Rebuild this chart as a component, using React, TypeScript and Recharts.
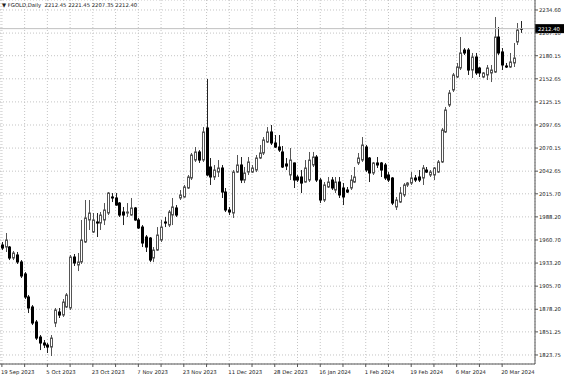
import { ComposedChart, Bar, XAxis, YAxis, CartesianGrid, ReferenceLine } from 'recharts';

// Daily candles (FGOLD, Sep 2023 - Mar 2024)
const opens = [
  1954.7, 1952.3, 1952.3, 1939.2, 1942.8, 1934.5, 1920.2, 1892.8, 1880.9, 1863.0,
  1845.1, 1838.0, 1835.6, 1833.2, 1861.8, 1874.9, 1871.3, 1880.9, 1879.7, 1940.4,
  1930.9, 1934.5, 1958.3, 1984.5, 1970.2, 1982.1, 1980.9, 1984.5, 1992.8, 2011.9,
  2010.7, 2004.7, 1994.0, 1992.8, 1990.4, 1998.8, 1984.5, 1976.1, 1964.2, 1963.0,
  1939.2, 1948.7, 1960.7, 1982.1, 1978.5, 1990.4, 1998.8, 2010.7, 2011.9, 2022.6,
  2034.5, 2055.9, 2065.5, 2055.9, 2094.1, 2047.6, 2035.7, 2041.6, 2046.4, 2017.8,
  1996.4, 1992.8, 2041.6, 2050.0, 2032.1, 2041.6, 2041.6, 2044.0, 2058.3, 2064.3,
  2077.4, 2089.3, 2076.2, 2071.4, 2065.5, 2051.2, 2038.1, 2052.4, 2035.7, 2035.7,
  2029.7, 2032.1, 2050.0, 2059.5, 2032.1, 2008.3, 2023.8, 2032.1, 2020.2, 2029.7,
  2022.6, 2020.2, 2022.6, 2029.7, 2052.4, 2055.9, 2071.4, 2058.3, 2040.5, 2052.4,
  2052.4, 2050.0, 2038.1, 2034.5, 2000.0, 2005.9, 2014.3, 2026.2, 2028.5, 2034.5,
  2035.7, 2034.5, 2044.0, 2038.1, 2038.1, 2041.6, 2053.6, 2089.3, 2121.4, 2139.3,
  2154.8, 2165.5, 2186.9, 2186.9, 2163.1, 2178.6, 2165.5, 2154.8, 2157.2, 2159.6,
  2160.7, 2202.4, 2184.6, 2167.9, 2166.7, 2171.5, 2196.5, 2212.45,
];
const highs = [
  1958.3, 1969.0, 1953.5, 1947.6, 1946.4, 1936.8, 1922.5, 1895.2, 1883.2, 1865.4,
  1847.5, 1841.6, 1838.0, 1847.5, 1879.7, 1879.7, 1890.4, 1897.5, 1942.8, 1944.0,
  1945.2, 1984.5, 2008.3, 2008.3, 1992.8, 1992.8, 1994.0, 2004.7, 2017.8, 2016.6,
  2016.6, 2005.9, 2000.0, 2004.7, 2010.7, 2000.0, 1986.9, 1978.5, 1966.6, 1964.2,
  1952.3, 1976.1, 1984.5, 1988.1, 1996.4, 2010.7, 2002.3, 2020.2, 2026.2, 2038.1,
  2064.3, 2071.4, 2067.8, 2095.2, 2152.4, 2058.3, 2050.0, 2055.9, 2050.0, 2022.6,
  2000.0, 2044.0, 2061.9, 2059.5, 2047.6, 2059.5, 2050.0, 2061.9, 2073.8, 2083.3,
  2095.2, 2097.6, 2085.7, 2085.7, 2072.6, 2058.3, 2070.2, 2053.0, 2038.1, 2044.0,
  2055.9, 2065.5, 2065.5, 2061.9, 2034.5, 2029.7, 2035.7, 2035.7, 2035.7, 2035.7,
  2028.5, 2023.8, 2038.1, 2047.6, 2064.3, 2083.3, 2073.8, 2059.5, 2053.6, 2059.5,
  2053.6, 2052.4, 2041.6, 2035.7, 2011.9, 2023.8, 2028.5, 2029.7, 2041.6, 2038.1,
  2044.0, 2050.0, 2047.6, 2044.0, 2047.6, 2055.9, 2094.1, 2119.1, 2139.3, 2159.6,
  2171.5, 2202.4, 2189.3, 2189.3, 2183.4, 2183.4, 2166.7, 2160.7, 2169.1, 2169.1,
  2226.2, 2214.3, 2189.3, 2171.5, 2183.4, 2195.3, 2219.1, 2221.45,
];
const lows = [
  1948.7, 1946.4, 1936.8, 1936.8, 1932.1, 1915.4, 1890.4, 1873.7, 1859.4, 1841.6,
  1829.6, 1832.0, 1826.1, 1822.5, 1857.0, 1867.8, 1869.0, 1879.7, 1877.3, 1929.7,
  1923.7, 1932.1, 1957.1, 1972.6, 1969.0, 1964.2, 1972.6, 1978.5, 1990.4, 2005.9,
  2001.5, 1988.1, 1978.5, 1988.1, 1989.5, 1983.5, 1973.8, 1952.3, 1946.4, 1934.5,
  1934.5, 1947.6, 1958.3, 1976.1, 1976.1, 1978.5, 1988.1, 2008.3, 2011.0, 2021.4,
  2032.1, 2053.6, 2052.4, 2053.6, 2036.5, 2026.2, 2032.1, 2035.7, 2010.7, 1994.0,
  1990.4, 1986.9, 2040.5, 2028.5, 2028.5, 2038.1, 2040.5, 2041.6, 2057.1, 2061.9,
  2076.2, 2073.8, 2070.2, 2065.5, 2046.4, 2044.0, 2032.1, 2022.6, 2029.7, 2016.6,
  2029.0, 2029.7, 2047.6, 2029.7, 2004.7, 2005.9, 2022.6, 2020.2, 2016.6, 2010.7,
  2002.3, 2016.6, 2020.2, 2028.5, 2050.0, 2053.6, 2041.6, 2029.7, 2038.1, 2046.4,
  2035.7, 2032.1, 2029.7, 2002.3, 1996.4, 2004.7, 2011.9, 2023.8, 2026.2, 2029.7,
  2029.7, 2026.2, 2040.5, 2035.7, 2032.1, 2040.5, 2052.4, 2088.1, 2119.1, 2136.9,
  2153.6, 2163.1, 2181.0, 2157.2, 2153.6, 2157.2, 2154.8, 2153.6, 2151.2, 2148.8,
  2159.6, 2181.0, 2163.1, 2165.5, 2165.5, 2166.7, 2192.9, 2207.35,
];
const closes = [
  1951.1, 1960.7, 1939.2, 1945.2, 1934.5, 1917.8, 1892.8, 1879.7, 1861.8, 1843.9,
  1838.0, 1835.6, 1833.2, 1843.9, 1877.3, 1871.3, 1886.8, 1895.2, 1940.4, 1933.3,
  1934.5, 1960.7, 1986.9, 1992.8, 1984.5, 1980.9, 1990.4, 1996.4, 2016.6, 2010.7,
  2002.3, 1990.4, 1990.4, 1994.0, 1998.8, 1984.5, 1975.0, 1957.1, 1952.3, 1936.8,
  1948.7, 1966.6, 1976.1, 1980.9, 1994.0, 2000.0, 1990.4, 2014.3, 2023.8, 2035.7,
  2061.9, 2065.5, 2055.9, 2089.3, 2038.1, 2035.7, 2044.0, 2046.4, 2017.8, 1996.4,
  1994.0, 2041.6, 2050.0, 2032.1, 2040.5, 2053.6, 2046.4, 2058.3, 2064.3, 2079.8,
  2089.3, 2076.2, 2071.4, 2067.8, 2047.6, 2048.8, 2055.9, 2032.1, 2032.1, 2028.5,
  2046.4, 2055.9, 2059.5, 2032.1, 2008.3, 2026.2, 2029.7, 2022.6, 2029.7, 2014.3,
  2011.9, 2017.8, 2032.1, 2035.7, 2058.3, 2073.8, 2044.0, 2040.5, 2052.4, 2050.0,
  2044.0, 2034.5, 2032.1, 2004.7, 2008.3, 2016.6, 2026.2, 2028.5, 2034.5, 2032.1,
  2032.1, 2046.4, 2041.6, 2041.6, 2046.4, 2053.6, 2091.7, 2115.5, 2135.7, 2157.2,
  2166.7, 2183.4, 2183.4, 2163.1, 2178.6, 2159.6, 2159.6, 2159.6, 2165.5, 2163.1,
  2202.4, 2183.4, 2169.1, 2166.7, 2172.7, 2177.4, 2210.8, 2212.40,
];

// one date label every 12 bars
const dateLabels = [
  '19 Sep 2023', '5 Oct 2023', '23 Oct 2023', '7 Nov 2023', '23 Nov 2023', '11 Dec 2023',
  '28 Dec 2023', '16 Jan 2024', '1 Feb 2024', '19 Feb 2024', '6 Mar 2024', '20 Mar 2024',
];
const priceTicks = [
  1823.75, 1851.25, 1878.2, 1905.7, 1933.2, 1960.7, 1988.2, 2015.7,
  2042.65, 2070.15, 2097.65, 2125.15, 2152.65, 2180.15, 2207.1, 2234.6,
];

const data = opens.map((o, i) => ({
  i,
  open: o,
  high: highs[i],
  low: lows[i],
  close: closes[i],
  range: [lows[i], highs[i]],
}));
const gridTicks = data.filter((d) => d.i % 6 === 0).map((d) => d.i);
const last = data[data.length - 1];

const FONT = '"DejaVu Sans", sans-serif';

function Candle(props: any) {
  const { x, y, width, height, payload } = props;
  if (!payload) return null;
  const { open, close, high, low } = payload;
  const top = Math.min(y, y + height);
  const h = Math.abs(height);
  const cx = Math.round(x + width / 2);
  const k = high === low ? 0 : h / (high - low);
  const yOf = (p: number) => top + (high - p) * k;
  const up = close >= open;
  const bTop = yOf(Math.max(open, close));
  const bBot = yOf(Math.min(open, close));
  return (
    <g>
      <line x1={cx + 0.5} x2={cx + 0.5} y1={top} y2={top + h} stroke={up ? '#555' : '#222'} strokeWidth={1} />
      <rect
        x={cx - 0.5}
        y={bTop}
        width={2}
        height={Math.max(bBot - bTop, 0.6)}
        fill={up ? '#fff' : '#000'}
        stroke={up ? '#555' : '#000'}
        strokeWidth={1}
      />
    </g>
  );
}

function DateTick(props: any) {
  const { x, y, payload } = props;
  const idx = payload.value;
  if (idx % 12 !== 0) return null;
  return (
    <text x={x - 1} y={y + 5} textAnchor="start" fontSize={5.3} fontFamily={FONT} fill="#222">
      {dateLabels[idx / 12]}
    </text>
  );
}

function PriceTick(props: any) {
  const { x, y, payload } = props;
  return (
    <text x={x} y={y + 2} textAnchor="start" fontSize={5.3} fontFamily={FONT} fill="#222">
      {payload.value.toFixed(2)}
    </text>
  );
}

function PriceBox(props: any) {
  const { viewBox } = props;
  if (!viewBox) return null;
  const right = viewBox.x + viewBox.width;
  return (
    <g>
      <rect x={right} y={viewBox.y - 4.5} width={29} height={9} fill="#000" />
      <text x={right + 3} y={viewBox.y + 2} fontSize={5.3} fontFamily={FONT} fill="#fff">
        {last.close.toFixed(2)}
      </text>
    </g>
  );
}

export default function App() {
  return (
    <div style={{ position: 'fixed', left: 0, top: 0, width: 564, height: 376, background: '#fff' }}>
      <ComposedChart width={564} height={376} data={data} margin={{ top: 0, right: 0, left: 0, bottom: 0 }}>
        <CartesianGrid stroke="#c4c4c4" strokeDasharray="1 2" />
        <XAxis
          dataKey="i"
          type="category"
          ticks={gridTicks}
          interval={0}
          height={12}
          padding={{ left: 0, right: 12 }}
          tick={<DateTick />}
          tickSize={3}
          tickLine={{ stroke: '#555' }}
          axisLine={{ stroke: '#555' }}
        />
        <YAxis
          orientation="right"
          width={29}
          domain={[1813.0, 2246.5]}
          allowDataOverflow
          ticks={priceTicks}
          interval={0}
          tick={<PriceTick />}
          tickSize={3}
          tickMargin={1}
          tickLine={{ stroke: '#555' }}
          axisLine={{ stroke: '#555' }}
        />
        <Bar dataKey="range" shape={<Candle />} isAnimationActive={false} />
        <ReferenceLine y={last.close} stroke="#c0c0c0" label={<PriceBox />} />
      </ComposedChart>
      <div
        style={{
          position: 'absolute',
          left: 2,
          top: 1,
          fontFamily: FONT,
          fontSize: 5.3,
          color: '#222',
          whiteSpace: 'pre',
          lineHeight: '8px',
        }}
      >
        {'\u25BC FGOLD,Daily  ' + [last.open, last.high, last.low, last.close].map((v) => v.toFixed(2)).join(' ')}
      </div>
    </div>
  );
}
